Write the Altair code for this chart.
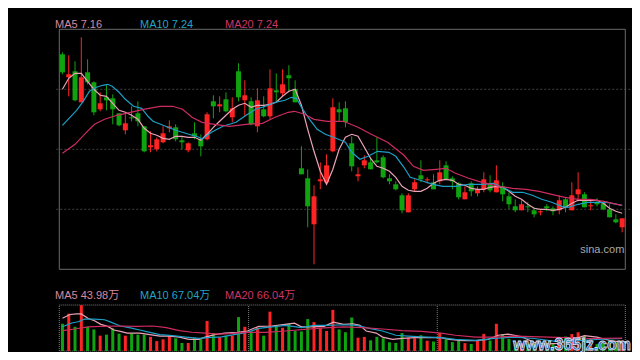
import altair as alt
import pandas as pd

# ---------------- data ----------------
idx = list(range(90))
opens = [8.75, 8.52, 8.58, 8.27, 8.57, 8.47, 8.20, 8.32, 8.31, 8.16,
         7.99, 8.12, 8.16, 8.03, 7.82, 7.80, 7.87, 8.01, 8.02, 7.89,
         7.79, 7.96, 7.90, 7.90, 8.28, 8.23, 8.30, 8.12, 8.58, 8.29,
         8.28, 8.03, 8.20, 8.13, 8.39, 8.36, 8.54, 8.40, 7.61, 7.51,
         7.05, 7.48, 7.47, 7.78, 8.20, 8.21, 7.86, 7.53, 7.64, 7.67,
         7.69, 7.72, 7.51, 7.45, 7.34, 7.17, 7.40, 7.54, 7.49, 7.47,
         7.48, 7.64, 7.51, 7.46, 7.30, 7.46, 7.36, 7.40, 7.46, 7.37,
         7.43, 7.33, 7.23, 7.19, 7.23, 7.19, 7.17, 7.23, 7.21, 7.19,
         7.30, 7.19, 7.35, 7.35, 7.23, 7.27, 7.26, 7.20, 7.10, 7.02]
closes = [8.57, 8.55, 8.29, 8.52, 8.47, 8.17, 8.26, 8.29, 8.20, 8.04,
          8.06, 8.11, 8.08, 7.78, 7.84, 7.90, 7.96, 8.03, 7.90, 7.87,
          7.86, 7.93, 7.83, 8.15, 8.23, 8.25, 8.18, 8.21, 8.32, 8.34,
          8.05, 8.29, 8.13, 8.41, 8.37, 8.45, 8.51, 8.27, 7.55, 7.23,
          7.33, 7.50, 7.64, 8.22, 8.17, 8.07, 7.63, 7.55, 7.69, 7.60,
          7.67, 7.52, 7.48, 7.40, 7.19, 7.34, 7.47, 7.50, 7.50, 7.40,
          7.57, 7.50, 7.48, 7.32, 7.37, 7.38, 7.40, 7.50, 7.39, 7.49,
          7.35, 7.25, 7.19, 7.25, 7.22, 7.15, 7.18, 7.21, 7.18, 7.29,
          7.22, 7.34, 7.40, 7.22, 7.24, 7.25, 7.20, 7.12, 7.07, 7.11]
highs = [8.77, 8.74, 8.68, 8.92, 8.70, 8.48, 8.37, 8.44, 8.35, 8.16,
         8.16, 8.23, 8.28, 8.03, 7.98, 7.92, 8.03, 8.09, 8.05, 7.93,
         7.87, 8.07, 7.95, 8.17, 8.34, 8.33, 8.37, 8.32, 8.66, 8.49,
         8.32, 8.41, 8.33, 8.60, 8.56, 8.60, 8.64, 8.49, 7.83, 7.60,
         7.44, 7.67, 7.75, 8.31, 8.27, 8.28, 7.93, 7.62, 7.74, 7.71,
         7.92, 7.74, 7.55, 7.48, 7.36, 7.36, 7.50, 7.69, 7.52, 7.55,
         7.69, 7.68, 7.53, 7.47, 7.43, 7.48, 7.43, 7.57, 7.54, 7.64,
         7.47, 7.37, 7.30, 7.29, 7.27, 7.22, 7.19, 7.25, 7.23, 7.34,
         7.32, 7.47, 7.57, 7.37, 7.29, 7.31, 7.28, 7.25, 7.15, 7.11]
lows = [8.55, 8.33, 8.28, 8.27, 8.45, 8.14, 8.18, 8.19, 8.05, 8.03,
        7.95, 8.08, 8.03, 7.77, 7.77, 7.78, 7.86, 7.97, 7.88, 7.80,
        7.77, 7.90, 7.73, 7.89, 8.11, 8.17, 8.17, 8.07, 8.28, 8.13,
        8.04, 7.97, 8.12, 8.10, 8.27, 8.33, 8.37, 8.27, 7.55, 7.02,
        6.65, 7.40, 7.45, 7.77, 8.08, 8.02, 7.58, 7.48, 7.61, 7.60,
        7.66, 7.51, 7.45, 7.39, 7.16, 7.17, 7.38, 7.47, 7.46, 7.40,
        7.45, 7.50, 7.40, 7.30, 7.30, 7.33, 7.33, 7.37, 7.37, 7.37,
        7.28, 7.20, 7.17, 7.19, 7.17, 7.12, 7.14, 7.18, 7.14, 7.15,
        7.17, 7.19, 7.28, 7.22, 7.19, 7.23, 7.19, 7.12, 7.06, 6.97]
volumes = [135, 185, 120, 227, 120, 107, 76, 81, 112, 86,
           76, 86, 81, 81, 70, 49, 58, 76, 63, 40,
           40, 66, 58, 149, 89, 69, 76, 76, 168, 120,
           97, 115, 76, 195, 120, 115, 135, 99, 97, 158,
           143, 115, 99, 204, 107, 93, 166, 66, 70, 53,
           70, 63, 43, 40, 89, 66, 63, 78, 51, 47,
           89, 58, 44, 53, 39, 35, 50, 85, 52, 135,
           84, 60, 43, 38, 34, 38, 29, 34, 34, 57,
           72, 84, 93, 75, 60, 34, 38, 52, 43, 52]

ma5 = [8.40, 8.51, 8.56, 8.56, 8.48, 8.40, 8.34, 8.33, 8.26, 8.19,
       8.17, 8.14, 8.10, 8.01, 7.96, 7.94, 7.91, 7.90, 7.93, 7.93,
       7.92, 7.92, 7.89, 7.95, 8.02, 8.08, 8.14, 8.20, 8.24, 8.26,
       8.22, 8.24, 8.24, 8.25, 8.27, 8.33, 8.38, 8.40, 8.24, 8.00,
       7.78, 7.58, 7.45, 7.60, 7.80, 7.92, 7.95, 7.93, 7.82, 7.71,
       7.63, 7.61, 7.58, 7.52, 7.43, 7.39, 7.38, 7.38, 7.41, 7.46,
       7.49, 7.50, 7.49, 7.45, 7.44, 7.41, 7.40, 7.40, 7.42, 7.43,
       7.42, 7.38, 7.33, 7.30, 7.25, 7.21, 7.20, 7.20, 7.19, 7.20,
       7.22, 7.26, 7.29, 7.29, 7.29, 7.29, 7.26, 7.21, 7.18, 7.16]

ma10_idx = [0, 1.2, 2.25, 3.3, 4.3, 5.4, 6.4, 7.2, 7.9, 9.0, 10.0, 11.3, 12.6, 13.6, 14.4,
            16.0, 18.0, 20.1, 21.7, 22.2, 23.7, 25.5, 27.6, 29.2, 30.7, 32.3, 33.8, 35.4,
            36.4, 37.2, 38.0, 39.3, 40.5, 41.8, 43.1, 43.9, 45.0, 46.0, 47.3, 48.6, 50.1,
            51.9, 53.0, 54.3, 55.3, 56.9, 58.9, 60.5, 62.5, 64.6, 66.7, 68.5, 70.0, 71.6,
            73.2, 74.7, 76.2, 77.8, 79.4, 80.4, 82.0, 83.5, 85.1, 86.6, 88.2, 89]
ma10_val = [8.04, 8.12, 8.19, 8.28, 8.38, 8.42, 8.44, 8.45, 8.43, 8.37, 8.30, 8.23, 8.21, 8.13, 8.08,
            8.04, 7.99, 7.95, 7.92, 7.90, 7.97, 8.03, 8.07, 8.14, 8.20, 8.23, 8.27, 8.29,
            8.32, 8.31, 8.22, 8.10, 8.00, 7.95, 7.92, 7.90, 7.87, 7.77, 7.70, 7.73, 7.78,
            7.77, 7.73, 7.62, 7.52, 7.49, 7.45, 7.43, 7.43, 7.45, 7.45, 7.46, 7.42, 7.37,
            7.37, 7.34, 7.30, 7.27, 7.23, 7.22, 7.25, 7.27, 7.27, 7.27, 7.25, 7.24]

ma20_idx = [0, 2.0, 3.5, 5.1, 6.7, 8.7, 10.8, 12.9, 15.5, 17.5, 19.1, 20.6, 22.2, 24.2, 26.6,
            29.2, 31.8, 33.8, 35.9, 36.9, 38.5, 40.0, 42.1, 44.7, 47.0, 49.1, 51.7, 54.3,
            55.8, 57.4, 59.4, 61.0, 62.5, 64.6, 66.7, 69.5, 71.6, 73.7, 75.8, 77.8, 79.9,
            82.0, 84.0, 86.1, 88.2, 89]
ma20_val = [7.76, 7.85, 7.95, 8.05, 8.10, 8.14, 8.17, 8.20, 8.23, 8.23, 8.20, 8.12, 8.07, 8.05, 8.03,
            8.05, 8.06, 8.12, 8.17, 8.18, 8.15, 8.10, 8.08, 8.08, 8.02, 7.95, 7.87, 7.74,
            7.63, 7.59, 7.60, 7.61, 7.56, 7.51, 7.47, 7.43, 7.41, 7.40, 7.38, 7.35, 7.32,
            7.30, 7.30, 7.28, 7.25, 7.24]

vma5_idx = [0, 1.2, 2.3, 3.0, 4.1, 5.1, 6.1, 7.2, 8.2, 9.2, 10.3, 12.3, 13.9, 15.5, 17.0, 18.6,
            20.1, 21.7, 22.7, 24.2, 25.8, 27.9, 29.4, 31.2, 33.3, 35.4, 36.9, 38.0, 39.5, 41.6,
            43.1, 44.7, 46.2, 47.3, 48.3, 49.9, 50.9, 52.5, 54.0, 56.1, 58.2, 60.2, 61.5, 63.6,
            65.7, 67.7, 69.3, 70.8, 72.9, 75, 77, 79, 81, 83, 85, 87, 89]
vma5_val = [162, 181, 184, 184, 161, 150, 132, 122, 104, 97, 89, 89, 81, 74, 74, 69,
            58, 58, 69, 81, 89, 93, 99, 122, 124, 132, 138, 120, 120, 122,
            143, 132, 135, 127, 99, 89, 69, 58, 63, 66, 66, 66, 58, 51,
            51, 58, 78, 84, 72, 43, 35, 38, 56, 76, 69, 52, 44]

vma10_idx = [0, 1.5, 2.5, 3.5, 5.1, 6.7, 7.7, 9.2, 10.8, 12.3, 13.9, 15.5, 17.5, 19.6, 21.7,
             23.2, 25.3, 27.3, 29.4, 31.2, 33.3, 35.4, 38.0, 40.0, 42.1, 44.7, 46.8, 48.8,
             50.9, 53.0, 55.0, 57.1, 60.2, 62.5, 65.7, 68.7, 71.9, 75, 79, 82, 85, 89]
vma10_val = [120, 139, 145, 158, 158, 155, 143, 124, 115, 104, 92, 81, 76, 69, 63,
             66, 70, 81, 92, 112, 120, 127, 116, 127, 127, 130, 127, 112,
             99, 78, 74, 70, 66, 58, 53, 63, 69, 62, 45, 51, 57, 62]

vma20_idx = [0, 2, 4.1, 6.1, 9.2, 11.8, 14.4, 16.5, 18.6, 20.6, 22.7, 24.8, 26.8, 28.9, 32.3,
             35.4, 38.5, 41.6, 44.7, 47.8, 50.9, 54.0, 57.1, 60.2, 62.5, 65.7, 68.7, 71.9,
             76, 80, 84, 89]
vma20_val = [101, 109, 120, 122, 124, 122, 124, 116, 101, 93, 89, 84, 86, 92, 92,
             99, 107, 115, 120, 116, 109, 101, 97, 89, 78, 69, 69, 74,
             70, 66, 62, 64]

price_grid = [7.2, 7.8, 8.4]
vol_breaks = [29.6, 59.6]
price_domain = [6.6, 9.0]
vol_domain = [0, 228]
x_domain = [-0.5, 89.5]

price_labels = ["MA5 7.16", "MA10 7.24", "MA20 7.24"]
vol_labels = ["MA5 43.98万", "MA10 67.04万", "MA20 66.04万"]

# ---------------- styling ----------------
RED = "#ff2424"
GREEN = "#10a310"
C_MA5 = "#eba3b8"
C_MA10 = "#1c9fc6"
C_MA20 = "#cc2c60"
LABEL_COLORS = ["#d58ba2", "#22a3c8", "#cf3466"]
FONT = "Liberation Sans, Arial, Noto Sans CJK SC"

# whole chart must fit in 624 x 344 (page 640x360 minus 8px margins)
W, H = 576, 344
xs = alt.Scale(domain=x_domain, nice=False, zero=False)
yP = alt.Scale(domain=price_domain, range=[261.3, 21.3], nice=False, zero=False)
yV = alt.Scale(domain=vol_domain, range=[343, 297], nice=False, zero=False)

candles = pd.DataFrame({"i": idx, "open": opens, "close": closes,
                        "high": highs, "low": lows, "vol": volumes})
one = pd.DataFrame({"a": [0]})
col = alt.condition("datum.close >= datum.open", alt.value(RED), alt.value(GREEN))
X = alt.X("i:Q", scale=xs, axis=None)

# ---- price panel ----
p_frame = alt.Chart(one).mark_rect(filled=False, stroke="#6b6b6b", strokeWidth=1).encode(
    x=alt.X(datum=x_domain[0], scale=xs, axis=None), x2=alt.datum(x_domain[1]),
    y=alt.Y(datum=price_domain[0], scale=yP, axis=None), y2=alt.datum(price_domain[1]))
p_grid = alt.Chart(pd.DataFrame({"g": price_grid})).mark_rule(
    color="#404040", strokeDash=[2, 2], strokeWidth=1).encode(
    y=alt.Y("g:Q", scale=yP, axis=None))
wicks = alt.Chart(candles).mark_rule(strokeWidth=1).encode(
    x=X, y=alt.Y("low:Q", scale=yP, axis=None), y2="high:Q", color=col)
bodies = alt.Chart(candles).mark_bar(size=5, orient="vertical").encode(
    x=X, y=alt.Y("open:Q", scale=yP, axis=None), y2="close:Q", color=col)


def line(ix, vals, color, ys):
    df = pd.DataFrame({"i": ix, "v": vals})
    return alt.Chart(df).mark_line(color=color, strokeWidth=1.2).encode(
        x=X, y=alt.Y("v:Q", scale=ys, axis=None))


price = alt.layer(
    p_grid, p_frame, wicks, bodies,
    line(idx, ma5, C_MA5, yP),
    line(ma10_idx, ma10_val, C_MA10, yP),
    line(ma20_idx, ma20_val, C_MA20, yP),
)

# ---- volume panel ----
v_frame = alt.Chart(one).mark_rect(filled=False, stroke="#7c7c7c", strokeWidth=1,
                                   strokeDash=[1, 1]).encode(
    x=alt.X(datum=x_domain[0], scale=xs, axis=None), x2=alt.datum(x_domain[1]),
    y=alt.Y(datum=vol_domain[0], scale=yV, axis=None), y2=alt.datum(vol_domain[1]))
v_breaks = alt.Chart(pd.DataFrame({"b": vol_breaks})).mark_rule(
    color="#7c7c7c", strokeDash=[1, 1], strokeWidth=1).encode(
    x=alt.X("b:Q", scale=xs, axis=None),
    y=alt.Y(datum=vol_domain[0], scale=yV, axis=None), y2=alt.datum(vol_domain[1]))
vbars = alt.Chart(candles).mark_bar(size=3, orient="vertical").encode(
    x=X, y=alt.Y("vol:Q", scale=yV, axis=None), y2=alt.datum(0), color=col)

volume = alt.layer(
    v_frame, v_breaks, vbars,
    line(vma5_idx, vma5_val, C_MA5, yV),
    line(vma10_idx, vma10_val, C_MA10, yV),
    line(vma20_idx, vma20_val, C_MA20, yV),
)

# ---- texts ----
label_x = [0.7, 85.7, 170.7]
texts = []
for lbls, ypos in ((price_labels, 20), (vol_labels, 291)):
    for t, xpos, c in zip(lbls, label_x, LABEL_COLORS):
        texts.append(alt.Chart(pd.DataFrame({"t": [t]})).mark_text(
            align="left", baseline="alphabetic", fontSize=11, font=FONT, color=c).encode(
            text="t:N", x=alt.value(xpos), y=alt.value(ypos)))

sina = alt.Chart(pd.DataFrame({"t": ["sina.com"]})).mark_text(
    align="left", baseline="alphabetic", fontSize=11, font=FONT, color="#a9a9a9").encode(
    text="t:N", x=alt.value(526), y=alt.value(245))
wm = alt.Chart(pd.DataFrame({"t": ["www.365jz.com"]})).mark_text(
    align="left", baseline="alphabetic", fontSize=16, fontWeight="bold", font=FONT,
    color="#2c5a98", stroke="#d8e4f4", strokeWidth=0.8).encode(
    text="t:N", x=alt.value(459), y=alt.value(342))

chart = alt.layer(price, volume, *texts, sina, wm).resolve_scale(y="independent").properties(
    width=W, height=H,
    autosize=alt.AutoSizeParams(type="none"),
    padding={"left": 46.3, "top": 0, "right": 1.7, "bottom": 0},
).configure(background="#000000").configure_view(strokeWidth=0)

chart.save("out.html", embed_options={"renderer": "svg", "actions": False})
